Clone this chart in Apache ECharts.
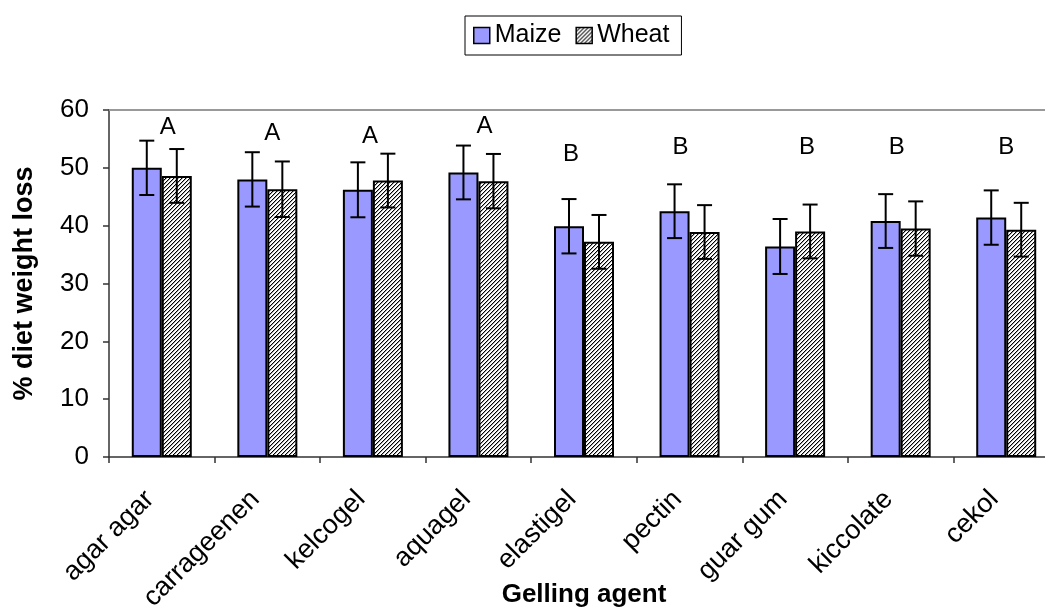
<!DOCTYPE html>
<html>
<head>
<meta charset="utf-8">
<script src="https://cdn.jsdelivr.net/npm/echarts@6/dist/echarts.min.js"></script>
<style>
html,body{margin:0;padding:0;background:#fff;}
#chart{width:1045px;height:613px;}
</style>
</head>
<body>
<div id="chart"></div>
<script>
// ---- data ----
const categories = ['agar agar','carrageenen','kelcogel','aquagel','elastigel','pectin','guar gum','kiccolate','cekol'];
const maize = [50.0, 48.0, 46.2, 49.2, 39.9, 42.5, 36.4, 40.8, 41.4];
const wheat = [48.6, 46.3, 47.8, 47.7, 37.2, 38.9, 39.0, 39.5, 39.3];
const maizeErr = [4.7, 4.7, 4.75, 4.65, 4.7, 4.65, 4.75, 4.65, 4.7];
const wheatErr = [4.65, 4.8, 4.65, 4.7, 4.65, 4.65, 4.65, 4.7, 4.65];
const letters = ['A','A','A','A','B','B','B','B','B'];
const letterY = [57.0, 55.9, 55.5, 57.1, 52.4, 53.5, 53.5, 53.5, 53.5];
const yTicks = [0, 10, 20, 30, 40, 50, 60];

// ---- styling helpers ----
const letterNudge = [6, 5, -3, 6, -13, -9, 12, -4, 0];
const FONT = '"Liberation Sans", Arial, sans-serif';

function hatch() {
  const c = document.createElement('canvas');
  c.width = 4; c.height = 4;
  const g = c.getContext('2d');
  g.fillStyle = '#fff'; g.fillRect(0,0,4,4);
  g.fillStyle = '#a8a8a8';
  for (let i = 0; i < 4; i++) g.fillRect((i + 1) % 4, 3 - i, 1, 1);
  g.fillStyle = '#000';
  for (let i = 0; i < 4; i++) g.fillRect(i, 3 - i, 1, 1);
  return c;
}

const BAR_W = 30;

function errSeries(name, values, errs, side) {
  return {
    type: 'custom',
    name: name + ' err',
    silent: true,
    z: 5,
    data: values.map((v, i) => [i, v, errs[i]]),
    renderItem: function (params, api) {
      const i = api.value(0), v = api.value(1), e = api.value(2);
      const top = api.coord([i, v + e]);
      const bot = api.coord([i, v - e]);
      const x = top[0] + side * BAR_W / 2;
      const cap = 7.5;
      const st = { stroke: '#000', lineWidth: 2 };
      return {
        type: 'group',
        children: [
          { type: 'line', shape: { x1: x, y1: top[1], x2: x, y2: bot[1] }, style: st },
          { type: 'line', shape: { x1: x - cap, y1: top[1], x2: x + cap, y2: top[1] }, style: st },
          { type: 'line', shape: { x1: x - cap, y1: bot[1], x2: x + cap, y2: bot[1] }, style: st }
        ]
      };
    }
  };
}

const chart = echarts.init(document.getElementById('chart'));
const option = {
  animation: false,
  backgroundColor: '#fff',
  textStyle: { fontFamily: FONT },
  legend: {
    left: 465, top: 16,
    data: [{ name: 'Maize', icon: 'rect' }, { name: 'Wheat', icon: 'rect' }],
    itemWidth: 16, itemHeight: 16, itemGap: 14,
    padding: [7, 12, 7, 8],
    borderColor: '#000', borderWidth: 1,
    textStyle: { fontSize: 25, color: '#000', fontFamily: FONT },
    itemStyle: { borderColor: '#000', borderWidth: 1.5 }
  },
  grid: { left: 109, top: 110, width: 950, height: 347, containLabel: false, outerBoundsMode: 'none' },
  xAxis: [{
    type: 'category',
    data: categories,
    boundaryGap: true,
    axisLine: { lineStyle: { color: '#333', width: 1.5 } },
    axisTick: { show: true, length: 6, lineStyle: { color: '#333', width: 1.5 } },
    axisLabel: { rotate: 45, fontSize: 27, color: '#000', margin: 26, interval: 0, fontFamily: FONT, padding: [0, 17, 0, 0] },
    name: 'Gelling agent',
    nameLocation: 'middle',
    nameGap: 125,
    nameMoveOverlap: false,
    nameTextStyle: { fontSize: 26, fontWeight: 'bold', color: '#000', fontFamily: FONT }
  }, {
    type: 'category',
    position: 'top',
    data: categories,
    axisLine: { show: true, lineStyle: { color: '#999', width: 2 } },
    axisTick: { show: false },
    axisLabel: { show: false }
  }],
  yAxis: {
    type: 'value',
    min: yTicks[0], max: yTicks[yTicks.length - 1], interval: 10,
    axisLine: { show: true, lineStyle: { color: '#333', width: 1.5 } },
    axisTick: { show: true, length: 6, lineStyle: { color: '#333', width: 1.5 } },
    splitLine: { show: false },
    axisLabel: { fontSize: 26, color: '#000', margin: 20, fontFamily: FONT },
    name: '% diet weight loss',
    nameLocation: 'middle',
    nameGap: 71,
    nameMoveOverlap: false,
    nameTextStyle: { fontSize: 27, fontWeight: 'bold', color: '#000', fontFamily: FONT }
  },
  series: [
    {
      name: 'Maize', type: 'bar', data: maize,
      barWidth: BAR_W, barGap: '0%',
      itemStyle: { color: '#9999FF', borderColor: '#000', borderWidth: 2 }
    },
    {
      name: 'Wheat', type: 'bar', data: wheat,
      barWidth: BAR_W, barGap: '0%',
      itemStyle: { color: { image: hatch(), repeat: 'repeat' }, borderColor: '#000', borderWidth: 2 }
    },
    errSeries('Maize', maize, maizeErr, -1),
    errSeries('Wheat', wheat, wheatErr, 1),
    {
      type: 'custom',
      name: 'letters',
      silent: true,
      data: letters.map((l, i) => [i, letterY[i]]),
      renderItem: function (params, api) {
        const i = api.value(0);
        const p = api.coord([i, api.value(1)]);
        return {
          type: 'text',
          x: p[0] + letterNudge[i], y: p[1],
          style: { text: letters[i], font: '24px ' + FONT, fill: '#000', align: 'center', verticalAlign: 'middle' }
        };
      }
    }
  ]
};
chart.setOption(option);
</script>
</body>
</html>
